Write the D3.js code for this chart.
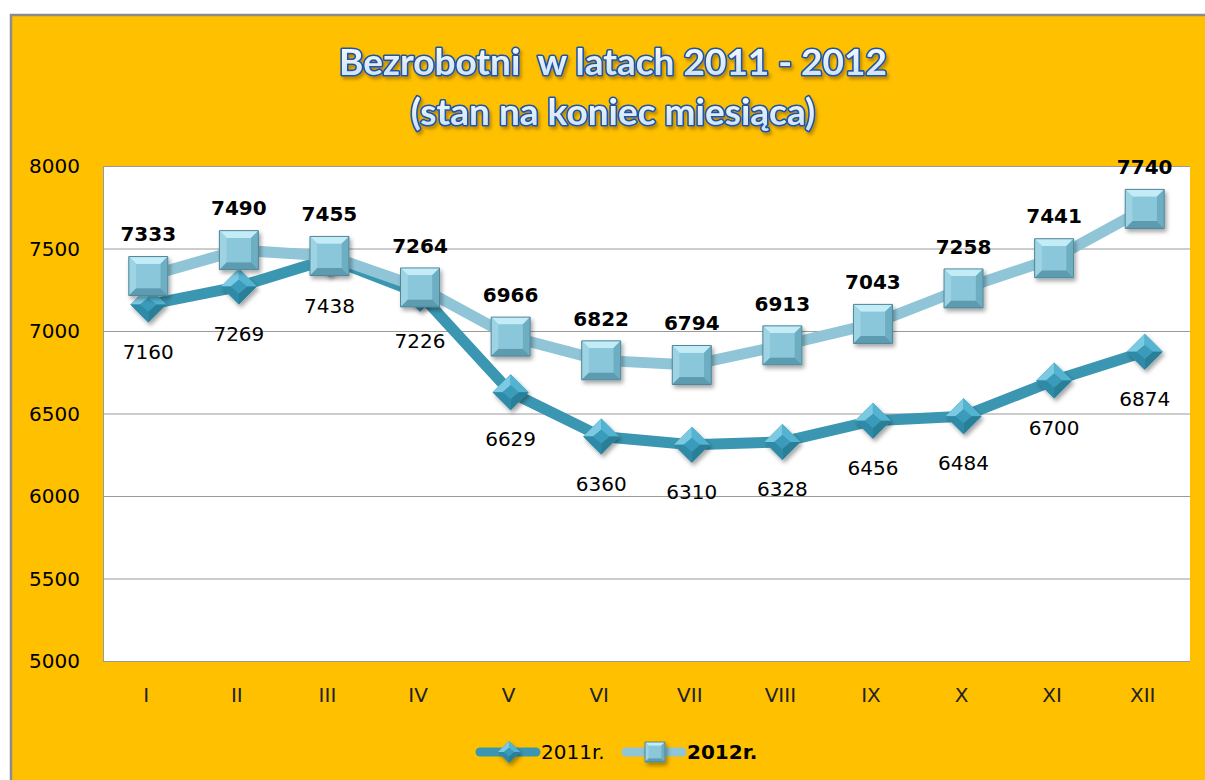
<!DOCTYPE html>
<html>
<head>
<meta charset="utf-8">
<script src="https://cdn.jsdelivr.net/npm/d3@7"></script>
<style>
  body { margin: 0; background: #fff; }
  svg { display: block; }
</style>
</head>
<body>
<svg id="chart"></svg>
<script>
const w = 1205, h = 780;

// data
const months = ['I', 'II', 'III', 'IV', 'V', 'VI', 'VII', 'VIII', 'IX', 'X', 'XI', 'XII'];
const values2011 = [7160, 7269, 7438, 7226, 6629, 6360, 6310, 6328, 6456, 6484, 6700, 6874];
const values2012 = [7333, 7490, 7455, 7264, 6966, 6822, 6794, 6913, 7043, 7258, 7441, 7740];
const yTicks = [5000, 5500, 6000, 6500, 7000, 7500, 8000];
const seriesNames = ['2011r.', '2012r.'];
const titleLines = ['Bezrobotni  w latach 2011 - 2012', '(stan na koniec miesiąca)'];

const plot = {left: 103, right: 1190, top: 166, bottom: 661};
const numFont = '"DejaVu Sans", sans-serif';

const svg = d3.select('#chart').attr('width', w).attr('height', h);
const defs = svg.append('defs');

// title gradient + marker shadow
let tg = defs.append('linearGradient').attr('id', 'titleFill')
  .attr('x1', 0).attr('y1', 0).attr('x2', 0).attr('y2', 1);
tg.append('stop').attr('offset', '0%').attr('stop-color', '#ffffff');
tg.append('stop').attr('offset', '100%').attr('stop-color', '#c6ddf3');

let sh = defs.append('filter').attr('id', 'shadow')
  .attr('x', '-30%').attr('y', '-30%').attr('width', '170%').attr('height', '170%');
sh.append('feDropShadow').attr('dx', 2).attr('dy', 3).attr('stdDeviation', 2)
  .attr('flood-color', '#000').attr('flood-opacity', 0.35);

let tsh = defs.append('filter').attr('id', 'tshadow')
  .attr('x', '-10%').attr('y', '-30%').attr('width', '120%').attr('height', '160%');
tsh.append('feDropShadow').attr('dx', 2).attr('dy', 3).attr('stdDeviation', 1.5)
  .attr('flood-color', '#7a5a00').attr('flood-opacity', 0.5);

// outer chart area
svg.append('rect').attr('x', 10).attr('y', 14).attr('width', w - 10).attr('height', h - 14)
  .attr('fill', '#ffc000');
svg.append('path').attr('d', `M11,${h} V15 H${w}`)
  .attr('fill', 'none').attr('stroke', '#8c8c8c').attr('stroke-width', 2.5);

// title
svg.append('g').selectAll('text')
  .data(titleLines)
  .enter()
  .append('text')
    .attr('x', 613)
    .attr('y', (d, i) => 75 + i * 50)
    .attr('text-anchor', 'middle')
    .style('font-family', 'Lato, "Open Sans", sans-serif')
    .style('font-weight', 'bold')
    .style('font-size', '37px')
    .style('white-space', 'pre')
    .attr('fill', 'url(#titleFill)')
    .attr('stroke', '#1a55a5')
    .attr('stroke-width', 3.2)
    .attr('stroke-linejoin', 'round')
    .attr('paint-order', 'stroke')
    .attr('filter', 'url(#tshadow)')
    .text(d => d);

// scales
const x = d3.scaleBand().domain(months).range([plot.left, plot.right]);
const y = d3.scaleLinear().domain([5000, 8000]).range([plot.bottom, plot.top]);
const cx = d => x(d) + x.bandwidth() / 2;

// plot area
svg.append('rect')
  .attr('x', plot.left).attr('y', plot.top)
  .attr('width', plot.right - plot.left).attr('height', plot.bottom - plot.top)
  .attr('fill', '#fff');

// gridlines
svg.append('g').selectAll('line')
  .data(yTicks)
  .enter()
  .append('line')
    .attr('x1', plot.left).attr('x2', plot.right)
    .attr('y1', d => y(d) + 0.5).attr('y2', d => y(d) + 0.5)
    .attr('stroke', '#9a9a9a').attr('stroke-width', 1);
svg.append('line')
  .attr('x1', plot.left + 0.5).attr('x2', plot.left + 0.5)
  .attr('y1', plot.top).attr('y2', plot.bottom)
  .attr('stroke', '#9a9a9a');

// y axis labels
svg.append('g').selectAll('text')
  .data(yTicks)
  .enter()
  .append('text')
    .attr('x', 80)
    .attr('y', d => y(d))
    .attr('dy', '0.36em')
    .attr('text-anchor', 'end')
    .style('font-family', numFont)
    .style('font-size', '20px')
    .attr('fill', '#000')
    .text(d => d);

// x axis labels
svg.append('g').selectAll('text')
  .data(months)
  .enter()
  .append('text')
    .attr('x', d => cx(d) - 2)
    .attr('y', 695)
    .attr('dy', '0.36em')
    .attr('text-anchor', 'middle')
    .style('font-family', numFont)
    .style('font-size', '20px')
    .attr('fill', '#222')
    .text(d => d);

// markers
function diamond(g, s) {
  // bevelled diamond, s = half size
  let b = s * 0.45;
  g.attr('filter', 'url(#shadow)');
  g.append('path').attr('d', `M0,${-s} L${s},0 L0,${s} L${-s},0 Z`).attr('fill', '#3a9ab8');
  g.append('path').attr('d', `M0,${-s} L${-s},0 L${-b},0 L0,${-b * 0.85} Z`).attr('fill', '#7cc9e2');
  g.append('path').attr('d', `M0,${-s} L${s},0 L${b},0 L0,${-b * 0.85} Z`).attr('fill', '#55b3d2');
  g.append('path').attr('d', `M0,${s} L${s},0 L${b},0 L0,${b * 0.85} Z`).attr('fill', '#2a7f98');
  g.append('path').attr('d', `M0,${s} L${-s},0 L${-b},0 L0,${b * 0.85} Z`).attr('fill', '#2f8aa6');
  g.append('path').attr('d', `M0,${-b * 0.85} L${b},0 L0,${b * 0.85} L${-b},0 Z`).attr('fill', '#3b9bba');
}
function square(g, s) {
  let b = s * 0.62;
  g.attr('filter', 'url(#shadow)');
  g.append('path').attr('d', `M${-s},${-s} H${s} V${s} H${-s} Z`).attr('fill', '#86c3d6');
  g.append('path').attr('d', `M${-s},${-s} H${s} L${b},${-b} H${-b} Z`).attr('fill', '#c4ecf7');
  g.append('path').attr('d', `M${-s},${-s} V${s} L${-b},${b} V${-b} Z`).attr('fill', '#9dd3e3');
  g.append('path').attr('d', `M${s},${-s} V${s} L${b},${b} V${-b} Z`).attr('fill', '#6eaec3');
  g.append('path').attr('d', `M${-s},${s} H${s} L${b},${b} H${-b} Z`).attr('fill', '#5d9bb0');
  g.append('path').attr('d', `M${-b},${-b} H${b} V${b} H${-b} Z`).attr('fill', '#8ac7da');
  g.append('path').attr('d', `M${-s},${-s} H${s} V${s} H${-s} Z`)
    .attr('fill', 'none').attr('stroke', '#4f8799').attr('stroke-width', 1);
}

const line = d3.line().x((d, i) => cx(months[i])).y(d => y(d));

const series = [
  {name: seriesNames[0], values: values2011, color: '#3b97b1', marker: diamond, size: 18, bold: false, off: 47},
  {name: seriesNames[1], values: values2012, color: '#8fc5d7', marker: square, size: 19.5, bold: true, off: -42}
];

series.forEach(s => {
  svg.append('path')
    .datum(s.values)
    .attr('d', line)
    .attr('fill', 'none')
    .attr('stroke', s.color)
    .attr('stroke-width', 11)
    .attr('stroke-linejoin', 'round');

  svg.append('g').selectAll('g')
    .data(s.values)
    .enter()
    .append('g')
      .attr('transform', (d, i) => `translate(${cx(months[i])},${y(d)})`)
      .each(function() { s.marker(d3.select(this), s.size); });
});

// data labels on top
series.forEach(s => {
  svg.append('g').selectAll('text')
    .data(s.values)
    .enter()
    .append('text')
      .attr('x', (d, i) => cx(months[i]))
      .attr('y', d => y(d) + s.off)
      .attr('dy', '0.36em')
      .attr('text-anchor', 'middle')
      .style('font-family', numFont)
      .style('font-size', '20px')
      .style('font-weight', s.bold ? 'bold' : 'normal')
      .attr('fill', '#000')
      .text(d => d);
});

// legend
const legendItems = [
  {name: seriesNames[0], x: 480, color: '#3b97b1', marker: diamond, size: 11, bold: false},
  {name: seriesNames[1], x: 626, color: '#8fc5d7', marker: square, size: 10, bold: true}
];
let lg = svg.append('g').selectAll('g')
  .data(legendItems)
  .enter()
  .append('g')
    .attr('transform', d => `translate(${d.x},752)`);
lg.append('line')
  .attr('x1', 0).attr('x2', 56)
  .attr('stroke', d => d.color).attr('stroke-width', 9).attr('stroke-linecap', 'round');
lg.append('g')
  .attr('transform', 'translate(29,0)')
  .each(function(d) { d.marker(d3.select(this), d.size); });
lg.append('text')
  .attr('x', 61)
  .attr('dy', '0.36em')
  .style('font-family', numFont)
  .style('font-size', '20px')
  .style('font-weight', d => d.bold ? 'bold' : 'normal')
  .text(d => d.name);
</script>
</body>
</html>
